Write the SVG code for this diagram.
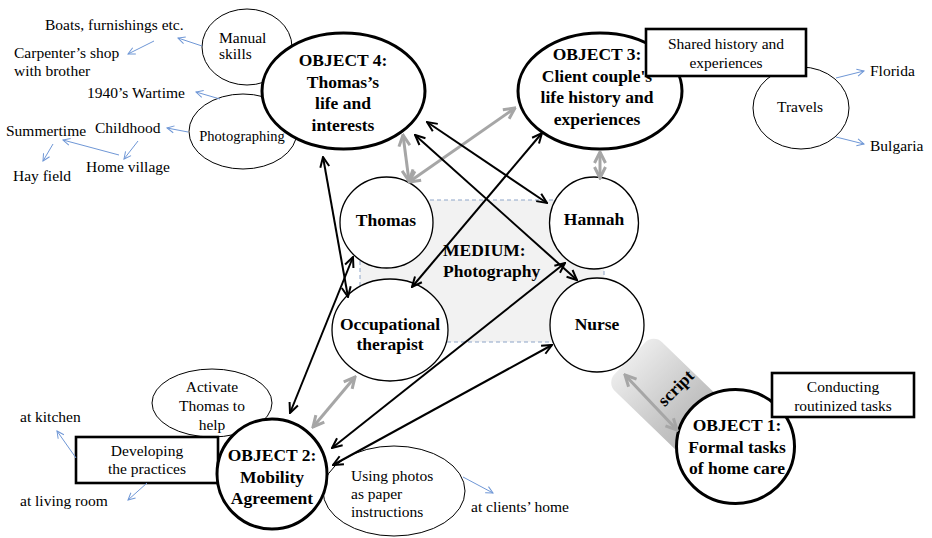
<svg xmlns="http://www.w3.org/2000/svg" width="932" height="538" viewBox="0 0 932 538" font-family="'Liberation Serif', 'Times New Roman', 'DejaVu Serif', serif">
  <style>
    text { font-family: 'Liberation Serif', 'Times New Roman', 'DejaVu Serif', serif; fill: #000; }
    .t { font-size: 15.5px; }
    .s { font-size: 14.5px; }
    .b { font-size: 17.5px; font-weight: bold; }
    .mid { text-anchor: middle; }
    .obj { fill: #fff; stroke: #000; stroke-width: 3; }
    .person { fill: #fff; stroke: #000; stroke-width: 1.3; }
    .aux { fill: #fff; stroke: #000; stroke-width: 1; }
    .box { fill: #fff; stroke: #000; stroke-width: 2.6; }
    .blk { stroke: #000; stroke-width: 2; fill: none; marker-start: url(#ahB); marker-end: url(#ahB); }
    .gry { stroke: #a6a6a6; stroke-width: 3; fill: none; marker-start: url(#ahG); marker-end: url(#ahG); }
    .blu { stroke: #6f97d6; stroke-width: 1; fill: none; marker-end: url(#ahL); }
  </style>
  <defs>
    <marker id="ahB" viewBox="0 0 12 12" refX="11" refY="6" markerWidth="12" markerHeight="12" markerUnits="userSpaceOnUse" orient="auto-start-reverse">
      <path d="M1,1.5 L11,6 L1,10.5" fill="none" stroke="#000" stroke-width="2"/>
    </marker>
    <marker id="ahG" viewBox="0 0 14 14" refX="12.5" refY="7" markerWidth="14" markerHeight="14" markerUnits="userSpaceOnUse" orient="auto-start-reverse">
      <path d="M1.5,1.5 L12.5,7 L1.5,12.5" fill="none" stroke="#a6a6a6" stroke-width="3"/>
    </marker>
    <marker id="ahL" viewBox="0 0 9 9" refX="8" refY="4.5" markerWidth="9" markerHeight="9" markerUnits="userSpaceOnUse" orient="auto">
      <path d="M1,1 L8,4.5 L1,8" fill="none" stroke="#6f97d6" stroke-width="1"/>
    </marker>
    <linearGradient id="scriptGrad" x1="0" y1="0" x2="1" y2="0">
      <stop offset="0" stop-color="#ebebeb"/>
      <stop offset="0.6" stop-color="#c4c4c4"/>
      <stop offset="1" stop-color="#b0b0b0"/>
    </linearGradient>
  </defs>

  <!-- shared medium area -->
  <g id="medium">
    <rect x="360" y="200" width="244" height="142" fill="#f2f2f2" stroke="#8ea5c8" stroke-width="1" stroke-dasharray="4 3"/>
    <text class="b" x="443" y="256">MEDIUM:</text>
    <text class="b" x="443" y="277">Photography</text>
  </g>

  <!-- satellite ellipses -->
  <g id="manual-skills">
    <ellipse class="aux" cx="247" cy="47" rx="45" ry="38"/>
    <text class="t" x="219" y="43">Manual</text>
    <text class="t" x="219" y="59">skills</text>
  </g>
  <g id="photographing">
    <ellipse class="aux" cx="243" cy="131.5" rx="54" ry="37.5"/>
    <text class="s mid" x="242" y="141">Photographing</text>
  </g>
  <g id="travels">
    <ellipse class="aux" cx="801" cy="108" rx="48" ry="41"/>
    <text class="t mid" x="800" y="112">Travels</text>
  </g>
  <g id="activate">
    <ellipse class="aux" cx="212" cy="403" rx="60" ry="34"/>
    <text class="t mid" x="212" y="392">Activate</text>
    <text class="t mid" x="212" y="411">Thomas to</text>
    <text class="t mid" x="212" y="430">help</text>
  </g>
  <g id="using-photos">
    <ellipse class="aux" cx="394" cy="491" rx="71" ry="45"/>
    <text class="t" x="351" y="481">Using photos</text>
    <text class="t" x="351" y="499">as paper</text>
    <text class="t" x="351" y="517">instructions</text>
  </g>

  <!-- objects -->
  <g id="object4">
    <ellipse class="obj" cx="343.5" cy="91" rx="81.5" ry="58"/>
    <text class="b mid" x="343" y="66">OBJECT 4:</text>
    <text class="b mid" x="343" y="87.5">Thomas’s</text>
    <text class="b mid" x="343" y="109">life and</text>
    <text class="b mid" x="343" y="130.5">interests</text>
  </g>
  <g id="object3">
    <ellipse class="obj" cx="600" cy="91" rx="82" ry="58"/>
    <text class="b mid" x="597" y="60">OBJECT 3:</text>
    <text class="b mid" x="597" y="81.5">Client couple's</text>
    <text class="b mid" x="597" y="103">life history and</text>
    <text class="b mid" x="597" y="124.5">experiences</text>
  </g>
  <g id="shared-history">
    <rect class="box" x="646" y="29" width="160" height="47"/>
    <text class="t mid" x="726" y="49">Shared history and</text>
    <text class="t mid" x="726" y="68">experiences</text>
  </g>
  <g id="developing">
    <rect class="box" x="76" y="437" width="142" height="46"/>
    <text class="t mid" x="147" y="456">Developing</text>
    <text class="t mid" x="147" y="474">the practices</text>
  </g>
  <g id="object2">
    <ellipse class="obj" cx="272" cy="474" rx="55" ry="55"/>
    <text class="b mid" x="272" y="461">OBJECT 2:</text>
    <text class="b mid" x="272" y="482.5">Mobility</text>
    <text class="b mid" x="272" y="504">Agreement</text>
  </g>

  <!-- script band -->
  <g id="script">
    <g transform="translate(673,400) rotate(44)">
      <rect x="-60" y="-34" width="120" height="68" rx="12" fill="url(#scriptGrad)"/>
    </g>
    <text class="b mid" transform="translate(680,392) rotate(-45)">script</text>
  </g>

  <!-- persons -->
  <g id="thomas">
    <ellipse class="person" cx="386.5" cy="222.5" rx="46.5" ry="45.5"/>
    <text class="b mid" x="386" y="226">Thomas</text>
  </g>
  <g id="hannah">
    <ellipse class="person" cx="594" cy="223" rx="44.5" ry="46"/>
    <text class="b mid" x="594" y="225">Hannah</text>
  </g>
  <g id="nurse">
    <ellipse class="person" cx="597" cy="325" rx="47" ry="47"/>
    <text class="b mid" x="597" y="330">Nurse</text>
  </g>
  <g id="occupational-therapist">
    <ellipse class="person" cx="390" cy="330" rx="58" ry="51"/>
    <text class="b mid" x="390" y="330">Occupational</text>
    <text class="b mid" x="390" y="350">therapist</text>
  </g>

  <g id="object1">
    <ellipse class="obj" cx="735.5" cy="446.5" rx="59" ry="57"/>
    <text class="b mid" x="737" y="431">OBJECT 1:</text>
    <text class="b mid" x="737" y="452.5">Formal tasks</text>
    <text class="b mid" x="737" y="474">of home care</text>
  </g>
  <g id="conducting">
    <rect class="box" x="772" y="373" width="142" height="44"/>
    <text class="t mid" x="843" y="392">Conducting</text>
    <text class="t mid" x="843" y="411">routinized tasks</text>
  </g>

  <!-- loose labels -->
  <g id="labels">
    <text class="t" x="45" y="30">Boats, furnishings etc.</text>
    <text class="t" x="14" y="58">Carpenter’s shop</text>
    <text class="t" x="14" y="76">with brother</text>
    <text class="t" x="87" y="98">1940’s Wartime</text>
    <text class="t" x="95" y="133">Childhood</text>
    <text class="t" x="6" y="136">Summertime</text>
    <text class="t" x="86" y="172">Home village</text>
    <text class="t" x="13" y="181">Hay field</text>
    <text class="t" x="870" y="76">Florida</text>
    <text class="t" x="870" y="151">Bulgaria</text>
    <text class="t" x="20" y="422">at kitchen</text>
    <text class="t" x="20" y="506">at living room</text>
    <text class="t" x="471" y="512">at clients’ home</text>
  </g>

  <!-- connectors -->
  <g id="connectors">
    <!-- grey links -->
    <line class="gry" x1="403" y1="135" x2="409" y2="181"/>
    <line class="gry" x1="409" y1="182" x2="515" y2="108"/>
    <line class="gry" x1="600" y1="152" x2="600" y2="178"/>
    <line class="gry" x1="355" y1="377" x2="313" y2="427"/>
    <line class="gry" x1="625" y1="375" x2="677" y2="430"/>
    <!-- black links -->
    <line class="blk" x1="323" y1="157" x2="348" y2="297"/>
    <line class="blk" x1="427" y1="122" x2="547" y2="203"/>
    <line class="blk" x1="415" y1="135" x2="577" y2="280"/>
    <line class="blk" x1="542" y1="133" x2="412" y2="287"/>
    <line class="blk" x1="353" y1="257" x2="290" y2="413"/>
    <line class="blk" x1="565" y1="263" x2="332" y2="448"/>
    <line class="blk" x1="552" y1="345" x2="333" y2="465"/>
    <!-- blue associations -->
    <line class="blu" x1="202" y1="46" x2="178" y2="38"/>
    <line class="blu" x1="154" y1="41" x2="128" y2="54"/>
    <line class="blu" x1="220" y1="99" x2="196" y2="92"/>
    <line class="blu" x1="188" y1="132" x2="167" y2="128"/>
    <line class="blu" x1="138" y1="141" x2="124" y2="159"/>
    <line class="blu" x1="119" y1="155" x2="63" y2="140"/>
    <line class="blu" x1="53" y1="144" x2="43" y2="161"/>
    <line class="blu" x1="836" y1="78" x2="864" y2="71"/>
    <line class="blu" x1="836" y1="137" x2="864" y2="144"/>
    <line class="blu" x1="76" y1="458" x2="57" y2="431"/>
    <line class="blu" x1="147" y1="483" x2="128" y2="500"/>
    <line class="blu" x1="463" y1="477" x2="493" y2="493"/>
  </g>
</svg>
